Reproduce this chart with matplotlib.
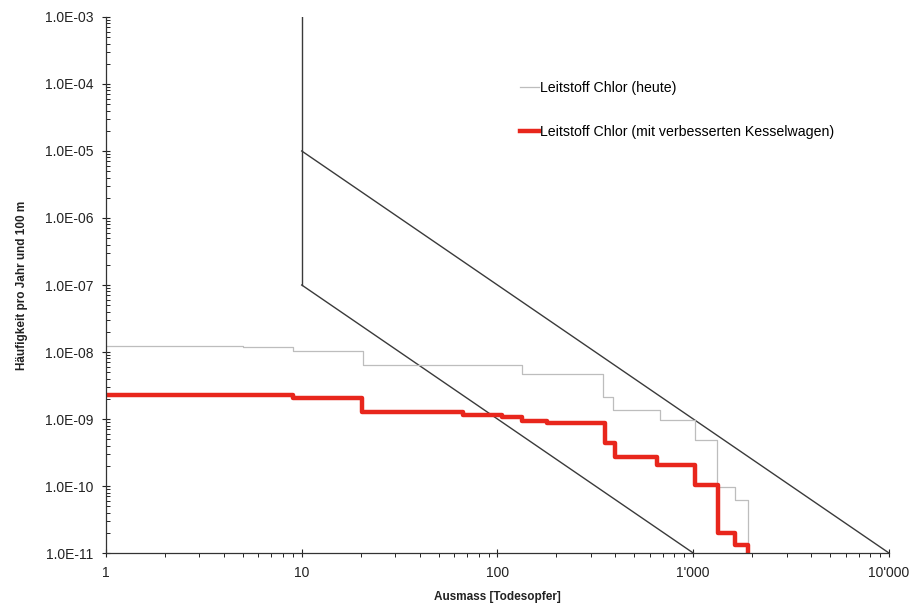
import matplotlib
matplotlib.use("Agg")
import matplotlib.pyplot as plt
from matplotlib.ticker import FixedLocator, LogLocator, NullFormatter

plt.rcParams['font.family'] = ['Liberation Sans', 'DejaVu Sans']

# Grenzlinien (Akzeptabilitaet)
limit_vert_x = [10, 10]
limit_vert_y = [1e-3, 1e-7]
limit_upper_x = [10, 10000]
limit_upper_y = [1e-5, 1e-11]
limit_lower_x = [10, 1000]
limit_lower_y = [1e-7, 1e-11]

# Leitstoff Chlor (heute) - Summenkurve
heute_x = [1, 5, 9, 20.6, 133, 346, 389, 676, 1020, 1322, 1635, 1905]
heute_y = [1.25e-8, 1.2e-8, 1.05e-8, 6.4e-9, 4.7e-9, 2.14e-9, 1.36e-9,
           9.7e-10, 4.9e-10, 9.7e-11, 6.2e-11, 1e-11]

# Leitstoff Chlor (mit verbesserten Kesselwagen)
neu_x = [1, 9, 20.3, 66.6, 105, 133, 179, 354, 398, 653, 1020, 1337, 1635, 1905]
neu_y = [2.3e-9, 2.06e-9, 1.27e-9, 1.15e-9, 1.07e-9, 9.5e-10, 8.7e-10,
         4.4e-10, 2.7e-10, 2.06e-10, 1.03e-10, 2.0e-11, 1.3e-11, 1e-11]

x_ticks = [1, 10, 100, 1000, 10000]
x_ticklabels = ["1", "10", "100", "1'000", "10'000"]
y_ticks = [1e-11, 1e-10, 1e-9, 1e-8, 1e-7, 1e-6, 1e-5, 1e-4, 1e-3]
y_ticklabels = ["1.0E-11", "1.0E-10", "1.0E-09", "1.0E-08", "1.0E-07",
                "1.0E-06", "1.0E-05", "1.0E-04", "1.0E-03"]

fig = plt.figure(figsize=(9.16, 6.11), dpi=100)
ax = fig.add_axes([0.1157, 0.0949, 0.8548, 0.8773])

ax.plot(limit_vert_x, limit_vert_y, color='#3a3a3a', lw=1.0)
ax.plot(limit_upper_x, limit_upper_y, color='#3a3a3a', lw=1.0)
ax.plot(limit_lower_x, limit_lower_y, color='#3a3a3a', lw=1.0)

ax.step(heute_x, heute_y, where='post', color='#bdbdbd', lw=0.9,
        label='Leitstoff Chlor (heute)')
ax.step(neu_x, neu_y, where='post', color='#e8261c', lw=3.2,
        label='Leitstoff Chlor (mit verbesserten Kesselwagen)')

ax.set_xscale('log')
ax.set_yscale('log')
ax.set_xlim(1, 10000)
ax.set_ylim(1e-11, 1e-3)

ax.xaxis.set_major_locator(FixedLocator(x_ticks))
ax.set_xticklabels(x_ticklabels)
ax.yaxis.set_major_locator(FixedLocator(y_ticks))
ax.set_yticklabels(y_ticklabels)
ax.xaxis.set_minor_locator(LogLocator(base=10, subs=range(2, 10), numticks=20))
ax.yaxis.set_minor_locator(LogLocator(base=10, subs=range(2, 10), numticks=20))
ax.xaxis.set_minor_formatter(NullFormatter())
ax.yaxis.set_minor_formatter(NullFormatter())

ax.tick_params(which='major', direction='inout', length=6, width=0.8,
               labelsize=10, colors='#222222', pad=6)
ax.tick_params(axis='y', which='minor', direction='in', length=3, width=0.6)
ax.tick_params(axis='x', which='minor', direction='out', length=3, width=0.6)

for side in ['top', 'right']:
    ax.spines[side].set_visible(False)
for side in ['left', 'bottom']:
    ax.spines[side].set_color('#333333')
    ax.spines[side].set_linewidth(0.9)

ax.set_xlabel('Ausmass [Todesopfer]', fontsize=8.5, fontweight='bold',
              color='#222222', labelpad=8)
ax.set_ylabel('Häufigkeit pro Jahr und 100 m', fontsize=8.5,
              fontweight='bold', color='#222222', labelpad=12)

ax.legend(loc='upper left', bbox_to_anchor=(0.529, 0.881), frameon=False,
          fontsize=10.2, handlelength=1.3, handletextpad=0.1,
          labelspacing=2.15, borderpad=0, borderaxespad=0)

fig.savefig('out.png', dpi=100)
